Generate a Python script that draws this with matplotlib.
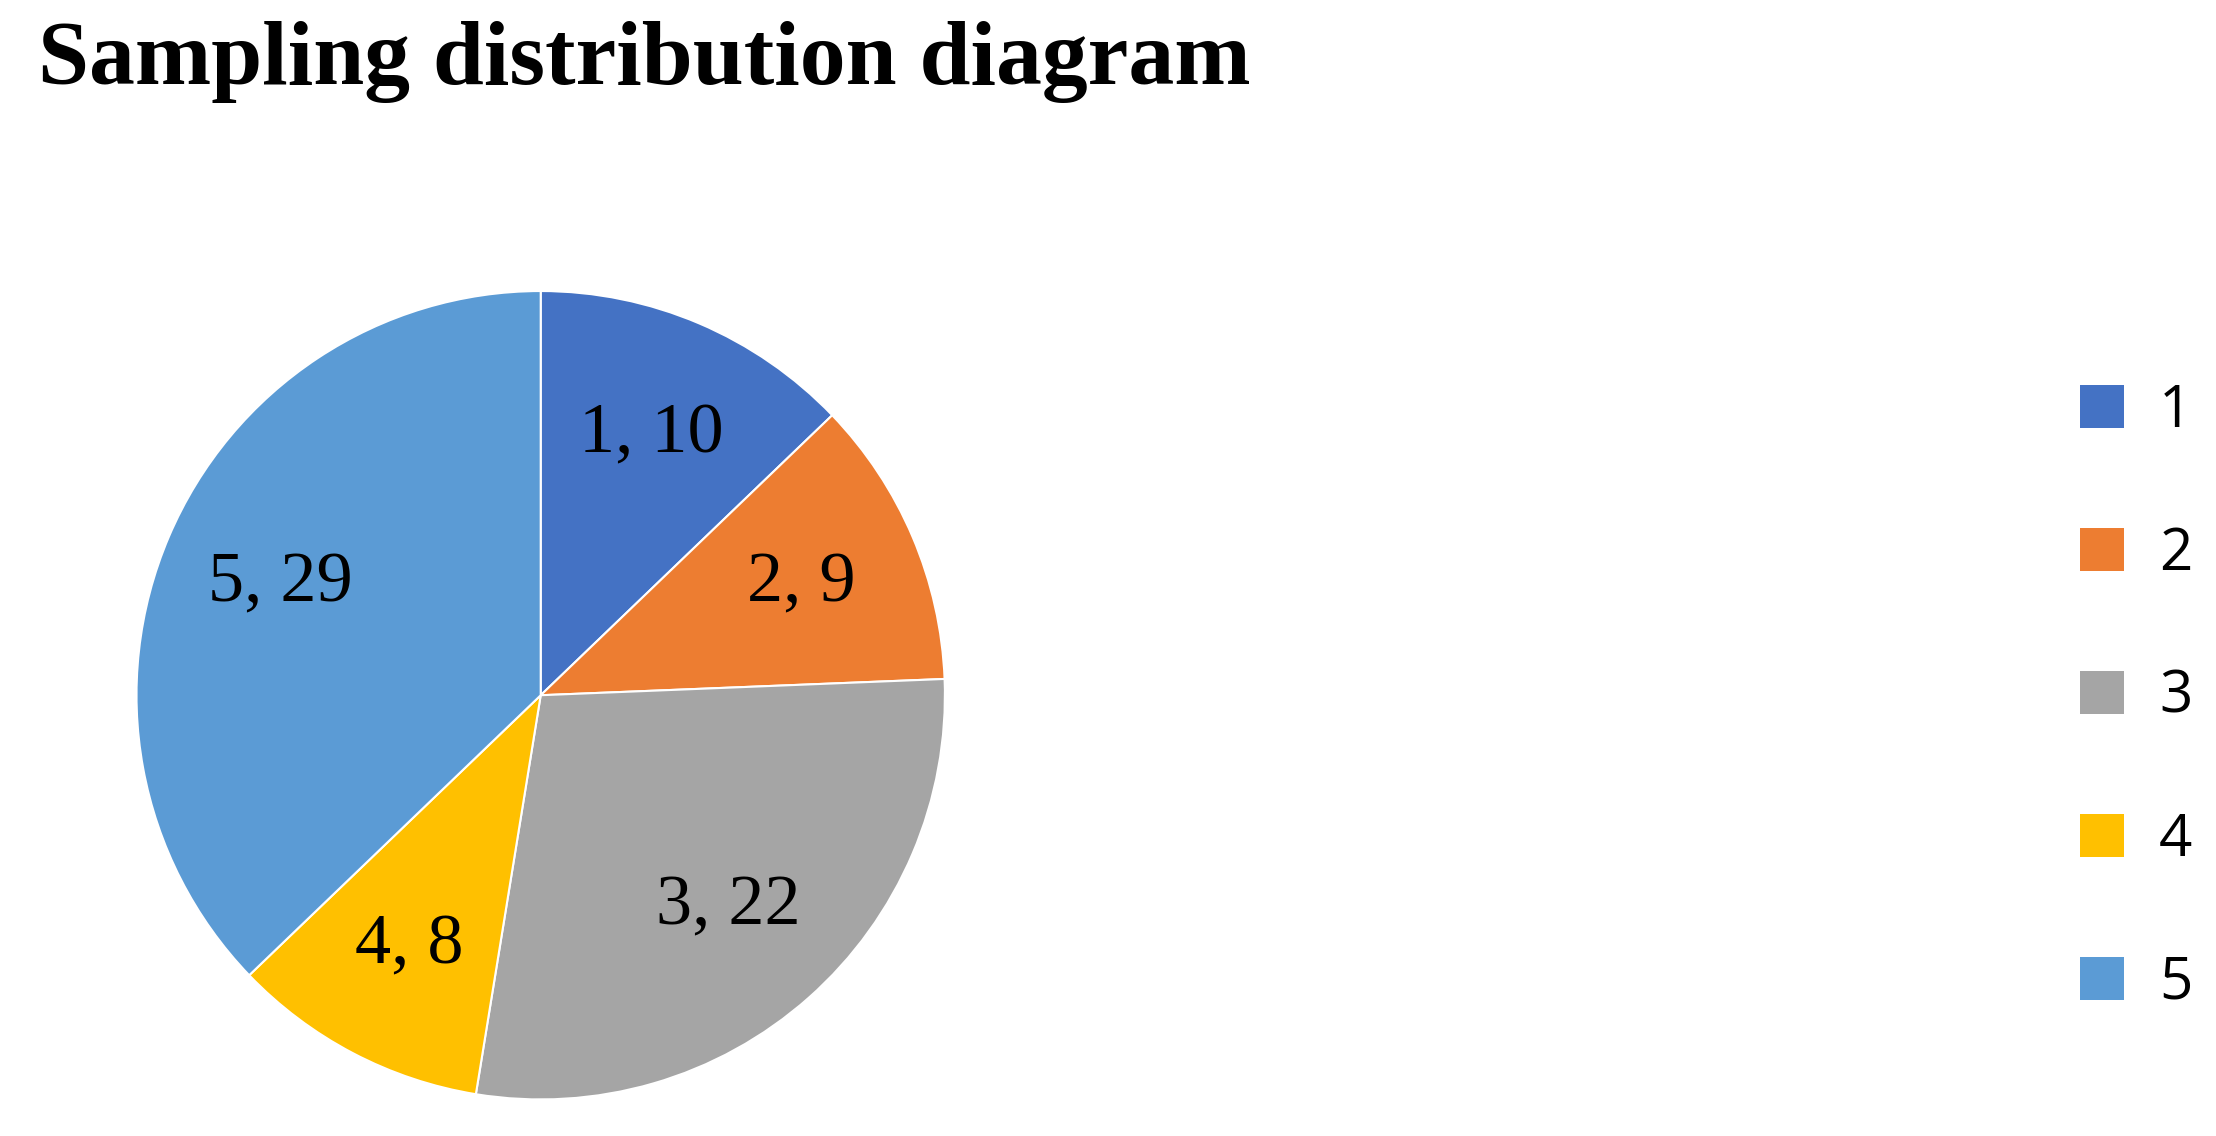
import matplotlib
matplotlib.use("Agg")
import matplotlib.pyplot as plt
from matplotlib.patches import Patch

categories = ["1", "2", "3", "4", "5"]
values = [10, 9, 22, 8, 29]
colors = ["#4472C4", "#ED7D31", "#A5A5A5", "#FFC000", "#5B9BD5"]

fig = plt.figure(figsize=(22.16, 11.36), dpi=100)
fig.text(0.017, 0.945, "Sampling distribution diagram", fontsize=66, fontweight="bold",
         family="Liberation Serif", va="center", ha="left")

ax = fig.add_axes([0.244 - 0.1824, 0.388 - 0.356, 0.3648, 0.712])
labels = [f"{c}, {v}" for c, v in zip(categories, values)]
wedges, texts = ax.pie(values, colors=colors, startangle=90, counterclock=False,
                       labels=labels, labeldistance=0.7, radius=1,
                       wedgeprops=dict(edgecolor="white", linewidth=1.5),
                       textprops=dict(fontsize=52, family="Liberation Serif"))
for t in texts:
    t.set_ha("center"); t.set_va("center")
ax.set_xlim(-1, 1); ax.set_ylim(-1, 1)
ax.set_aspect("equal")

handles = [Patch(facecolor=c, label=l) for c, l in zip(colors, categories)]
fig.legend(handles=handles, loc="center left", bbox_to_anchor=(0.915, 0.386),
           frameon=False, prop=dict(family="Open Sans", size=42),
           labelspacing=1.45, handlelength=0.75, handleheight=0.75, handletextpad=0.6)

fig.savefig("out.png", dpi=100)
